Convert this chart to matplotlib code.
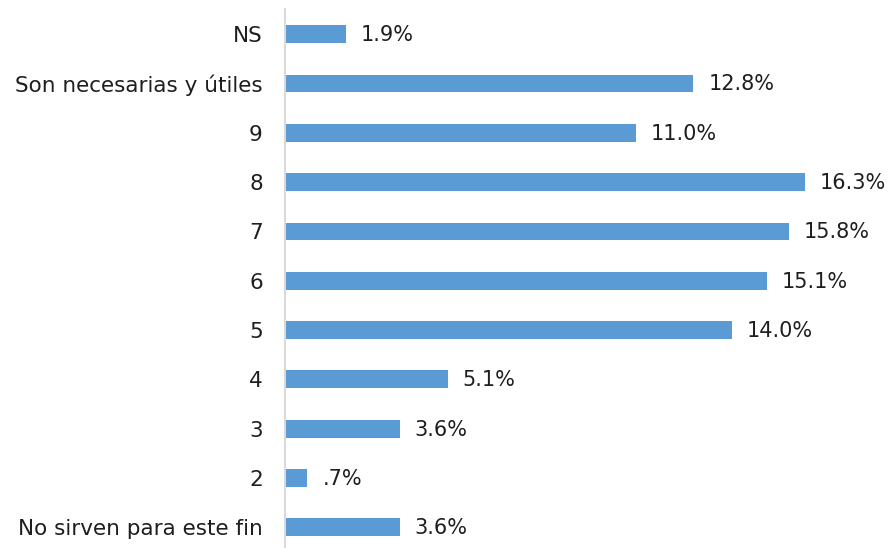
import matplotlib.pyplot as plt

categories = ['NS', 'Son necesarias y útiles', '9', '8', '7', '6', '5', '4', '3', '2',
              'No sirven para este fin']
values = [1.9, 12.8, 11.0, 16.3, 15.8, 15.1, 14.0, 5.1, 3.6, 0.7, 3.6]
value_labels = ['1.9%', '12.8%', '11.0%', '16.3%', '15.8%', '15.1%', '14.0%', '5.1%', '3.6%',
                '.7%', '3.6%']

plt.rcParams['font.family'] = ['DejaVu Sans']

fig = plt.figure(figsize=(8.91, 5.48), dpi=100)
ax = fig.add_axes([285 / 891, 0, 1 - 285 / 891, 1 - 9.5 / 548])

y = list(range(len(categories)))
ax.barh(y, values, height=0.36, color='#5B9BD5')

# value labels right of each bar
for yi, v, lab in zip(y, values, value_labels):
    ax.annotate(lab, (v, yi), xytext=(15, -1), textcoords='offset pixels',
                va='center', ha='left', fontsize=15, color='#1e1e1e')

ax.set_xlim(0, 19.0)
ax.set_ylim(10.42, -0.5)
ax.set_yticks(y)
ax.set_yticklabels(categories, fontsize=15.5, color='#1e1e1e')
ax.tick_params(axis='y', length=0, pad=16)
ax.set_xticks([])

for s in ['top', 'right', 'bottom']:
    ax.spines[s].set_visible(False)
ax.spines['left'].set_color('#D9D9D9')
ax.spines['left'].set_linewidth(1.5)

fig.savefig('out.png', dpi=100)
